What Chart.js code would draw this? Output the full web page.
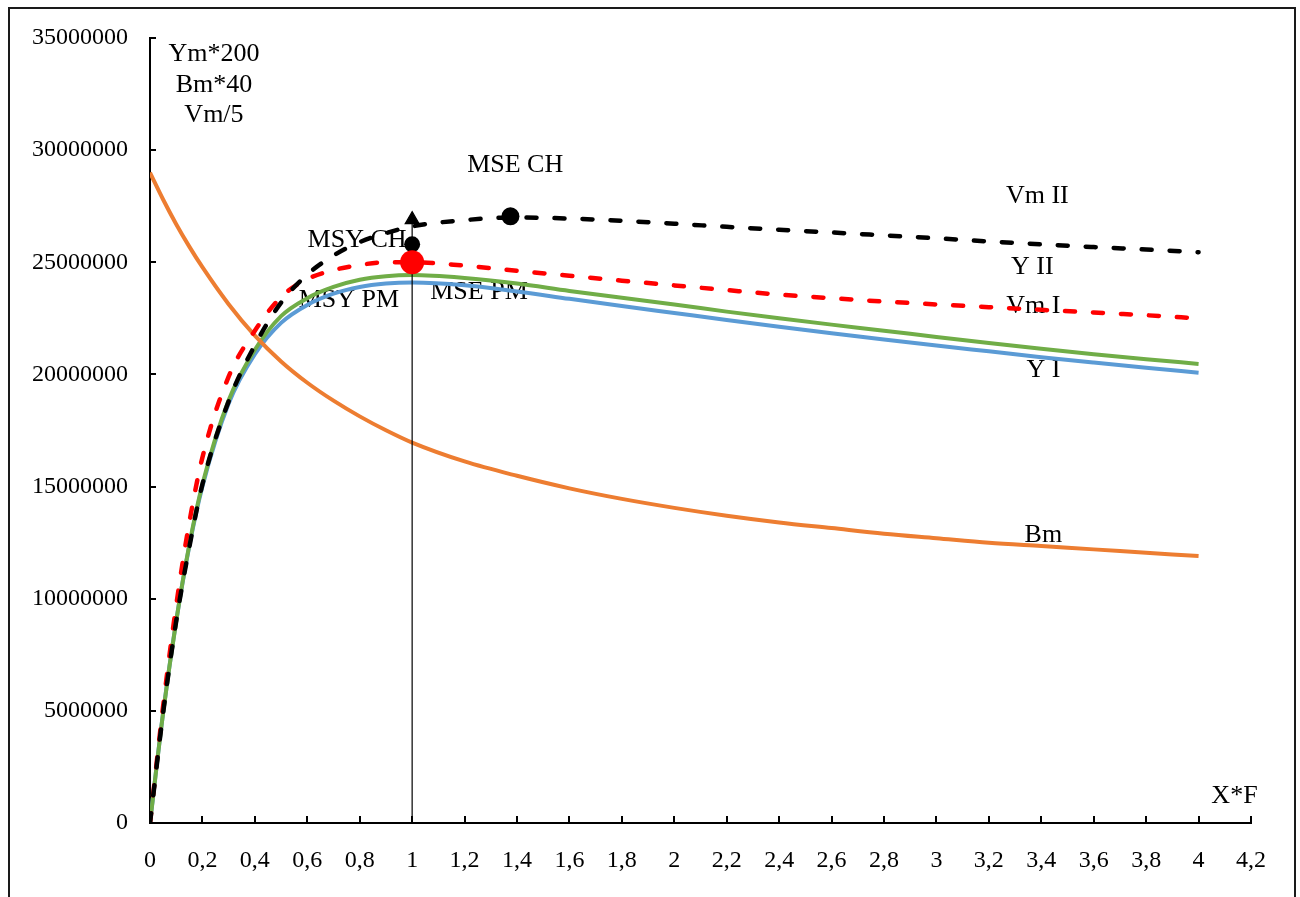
<!DOCTYPE html>
<html>
<head>
<meta charset="utf-8">
<title>Ym, Bm, Vm vs X*F</title>
<script src="https://cdn.jsdelivr.net/npm/chart.js@4.4.1/dist/chart.umd.min.js"></script>
<style>
  html, body { margin: 0; padding: 0; background: #fff; }
  #wrap { width: 1300px; height: 897px; }
</style>
</head>
<body>
<div id="wrap"><canvas id="yieldChart" width="1300" height="897"></canvas></div>
<script>
// Fishing-mortality multiplier (X*F)
const xValues = [0, 0.05, 0.1, 0.15, 0.2, 0.3, 0.4, 0.5, 0.6, 0.7, 0.8, 0.9, 1.0,
    1.2, 1.4, 1.6, 1.8, 2.0, 2.2, 2.4, 2.6, 2.8, 3.0, 3.2, 3.4, 3.6, 3.8, 4.0];

// Series values, in millions (scaled: Ym*200, Bm*40, Vm/5)
const yieldI = [0, 4.9, 9.0, 12.35, 15.0, 18.7, 20.9, 22.3, 23.1, 23.6, 23.9, 24.05, 24.1,
    23.98, 23.7, 23.37, 23.05, 22.74, 22.43, 22.13, 21.84, 21.56, 21.29, 21.03, 20.77, 20.53, 20.3, 20.08];
const yieldII = [0, 4.9, 9.0, 12.4, 15.1, 18.85, 21.1, 22.6, 23.4, 23.9, 24.22, 24.38, 24.43,
    24.3, 24.05, 23.72, 23.42, 23.12, 22.8, 22.5, 22.22, 21.95, 21.67, 21.4, 21.14, 20.9, 20.68, 20.47];
const valueI = [0, 5.2, 9.7, 13.4, 16.3, 19.9, 21.95, 23.45, 24.25, 24.65, 24.88, 25.0, 25.0,
    24.85, 24.62, 24.4, 24.18, 23.97, 23.76, 23.56, 23.4, 23.25, 23.12, 23.0, 22.88, 22.76, 22.64, 22.5];
const valueII = [0, 4.9, 9.0, 12.3, 15.1, 18.8, 21.3, 23.2, 24.45, 25.3, 25.9, 26.3, 26.6,
    26.88, 27.0, 26.95, 26.85, 26.72, 26.58, 26.45, 26.33, 26.2, 26.07, 25.93, 25.8, 25.68, 25.57, 25.45];
const biomass = [29.0, 27.8, 26.7, 25.7, 24.78, 23.13, 21.73, 20.58, 19.63, 18.83, 18.13, 17.51, 16.96,
    16.12, 15.48, 14.92, 14.45, 14.05, 13.7, 13.4, 13.15, 12.9, 12.7, 12.5, 12.35, 12.2, 12.05, 11.9];

// Reference points (x, value in millions)
const mseCh = [{ x: 1.375, y: 27.05 }];
const msyCh = [{ x: 1.0, y: 25.8 }];
const msyPm = [{ x: 1.0, y: 25.0 }];
const fLine = [{ x: 1.0, y: 0 }, { x: 1.0, y: 26.9 }];

// Tick values and labels
const xTicks = [0, 0.2, 0.4, 0.6, 0.8, 1, 1.2, 1.4, 1.6, 1.8, 2, 2.2, 2.4, 2.6, 2.8, 3, 3.2, 3.4, 3.6, 3.8, 4, 4.2];
const xTickLabels = ['0', '0,2', '0,4', '0,6', '0,8', '1', '1,2', '1,4', '1,6', '1,8', '2',
    '2,2', '2,4', '2,6', '2,8', '3', '3,2', '3,4', '3,6', '3,8', '4', '4,2'];
const yTicks = [0, 5000000, 10000000, 15000000, 20000000, 25000000, 30000000, 35000000];
const yTickLabels = ['0', '5000000', '10000000', '15000000', '20000000', '25000000', '30000000', '35000000'];

// Text labels placed in data coordinates (x, value in millions)
const curveLabels = [
    { text: 'MSE CH', x: 1.393, y: 29.34 },
    { text: 'MSY CH', x: 0.79, y: 26.0 },
    { text: 'MSY PM', x: 0.759, y: 23.3 },
    { text: 'MSE PM', x: 1.255, y: 23.65 },
    { text: 'Vm II', x: 3.385, y: 27.96 },
    { text: 'Y II', x: 3.366, y: 24.79 },
    { text: 'Vm I', x: 3.37, y: 23.05 },
    { text: 'Y I', x: 3.408, y: 20.2 },
    { text: 'Bm', x: 3.408, y: 12.84 },
    { text: 'X*F', x: 4.137, y: 1.2 },
    { text: 'Ym*200', x: 0.244, y: 34.29 },
    { text: 'Bm*40', x: 0.244, y: 32.9 },
    { text: 'Vm/5', x: 0.244, y: 31.57 }
];

const FONT = '"Liberation Serif", "Times New Roman", serif';

function toPoints(values) {
    return values.map((v, i) => ({ x: xValues[i], y: v * 1e6 }));
}
function scalePoints(pts) {
    return pts.map(p => ({ x: p.x, y: p.y * 1e6 }));
}

function curve(data, color, order, dashed) {
    return {
        data: toPoints(data),
        borderColor: color,
        borderWidth: dashed ? 4.5 : 4,
        borderDash: dashed ? [10, 18] : [],
        borderCapStyle: dashed ? 'round' : 'butt',
        pointRadius: 0,
        cubicInterpolationMode: 'monotone',
        fill: false,
        order: order
    };
}

function marker(points, color, radius, order, style) {
    return {
        data: scalePoints(points),
        showLine: false,
        pointStyle: style || 'circle',
        pointRadius: radius,
        pointBackgroundColor: color,
        pointBorderColor: color,
        pointBorderWidth: 0,
        order: order
    };
}

const chartDecor = {
    id: 'chartDecor',
    beforeDatasetsDraw(chart) {
        const ctx = chart.ctx;
        const xs = chart.scales.x, ys = chart.scales.y;
        ctx.save();
        ctx.fillStyle = '#000';
        ctx.font = '26px ' + FONT;
        ctx.textAlign = 'center';
        ctx.textBaseline = 'middle';
        curveLabels.forEach(l => {
            ctx.fillText(l.text, xs.getPixelForValue(l.x), ys.getPixelForValue(l.y * 1e6));
        });
        ctx.restore();
    },
    afterDraw(chart) {
        const ctx = chart.ctx;
        const area = chart.chartArea;
        const xs = chart.scales.x, ys = chart.scales.y;
        ctx.save();
        ctx.strokeStyle = '#000';
        ctx.lineWidth = 2;
        // inward tick marks
        ctx.beginPath();
        yTicks.forEach(v => {
            const py = Math.round(ys.getPixelForValue(v));
            ctx.moveTo(area.left, py);
            ctx.lineTo(area.left + 6, py);
        });
        xTicks.forEach(v => {
            const px = Math.round(xs.getPixelForValue(v));
            ctx.moveTo(px, area.bottom);
            ctx.lineTo(px, area.bottom - 7);
        });
        ctx.stroke();
        // outer frame
        ctx.strokeStyle = '#1a1a1a';
        ctx.beginPath();
        ctx.moveTo(9, 897);
        ctx.lineTo(9, 8);
        ctx.lineTo(1295, 8);
        ctx.lineTo(1295, 897);
        ctx.stroke();
        ctx.restore();
    }
};

new Chart(document.getElementById('yieldChart'), {
    type: 'line',
    data: {
        datasets: [
            marker(msyPm, '#ff0000', 12, 0),
            marker(msyCh, '#000000', 8, 1),
            marker(mseCh, '#000000', 9, 1),
            {
                data: scalePoints(fLine),
                borderColor: '#000',
                borderWidth: 1.2,
                pointStyle: 'triangle',
                pointRadius: [0, 8],
                pointBackgroundColor: '#000',
                pointBorderColor: '#000',
                order: 2
            },
            curve(valueII, '#000000', 3, true),
            curve(valueI, '#ff0000', 4, true),
            curve(biomass, '#ed7d31', 5, false),
            curve(yieldII, '#70ad47', 6, false),
            curve(yieldI, '#5b9bd5', 7, false)
        ]
    },
    options: {
        responsive: false,
        animation: false,
        layout: { padding: { left: 0, top: 38, right: 49, bottom: 0 } },
        plugins: { legend: { display: false }, tooltip: { enabled: false } },
        scales: {
            x: {
                type: 'linear',
                min: 0,
                max: 4.2,
                afterBuildTicks: s => { s.ticks = xTicks.map(v => ({ value: v })); },
                afterFit: s => { s.height = 74; },
                // tick marks are drawn inward by the plugin; tickLength only spaces the labels
                grid: { display: false, drawTicks: true, tickLength: 17 },
                border: { display: true, color: '#000', width: 2 },
                ticks: {
                    padding: 6,
                    color: '#000',
                    maxRotation: 0,
                    autoSkip: false,
                    font: { family: FONT, size: 24 },
                    callback: (v, i) => xTickLabels[i]
                }
            },
            y: {
                type: 'linear',
                min: 0,
                max: 35000000,
                afterBuildTicks: s => { s.ticks = yTicks.map(v => ({ value: v })); },
                afterFit: s => { s.width = 150; },
                grid: { display: false, drawTicks: false },
                border: { display: true, color: '#000', width: 2 },
                ticks: {
                    padding: 22,
                    color: '#000',
                    autoSkip: false,
                    font: { family: FONT, size: 24 },
                    callback: (v, i) => yTickLabels[i]
                }
            }
        }
    },
    plugins: [chartDecor]
});
</script>
</body>
</html>
